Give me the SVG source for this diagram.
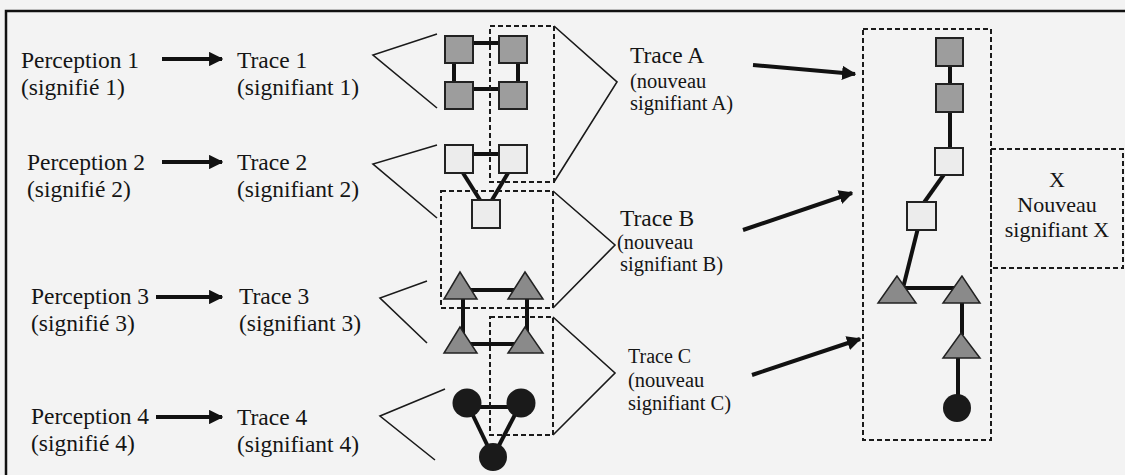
<svg xmlns="http://www.w3.org/2000/svg" width="1125" height="475" viewBox="0 0 1125 475">
<defs>
<marker id="ah" viewBox="0 0 10 10" refX="9" refY="5" markerWidth="3.6" markerHeight="3.6" orient="auto" markerUnits="strokeWidth">
<path d="M0,0 L10,5 L0,10 z" fill="#111"/>
</marker>
<style>
text{font-family:"Liberation Serif","Times New Roman",serif;fill:#151515}
.t{font-size:23.5px}
.s{font-size:20.5px}
.c{font-size:20px}
.x{font-size:22px}
.dash{fill:none;stroke:#1a1a1a;stroke-width:2;stroke-dasharray:5 3}
.chev{fill:none;stroke:#1a1a1a;stroke-width:1.6}
.arr{fill:none;stroke:#111;stroke-width:4;marker-end:url(#ah)}
.link{stroke:#111;stroke-width:4;fill:none}
.gsq{fill:#9d9d9d;stroke:#222;stroke-width:2}
.wsq{fill:#ececec;stroke:#222;stroke-width:2}
.tri{fill:#8a8a8a;stroke:#222;stroke-width:1.5}
.dot{fill:#1a1a1a}
</style>
</defs>
<rect width="1125" height="475" fill="#f3f3f3"/>
<path d="M6,475 V11 H1125" fill="none" stroke="#111" stroke-width="2.5"/>

<g id="perception1"><text class="t" x="21" y="68">Perception 1</text><text class="t" x="21" y="95">(signifié 1)</text></g>
<g id="perception2"><text class="t" x="27" y="170">Perception 2</text><text class="t" x="27" y="197">(signifié 2)</text></g>
<g id="perception3"><text class="t" x="31" y="304">Perception 3</text><text class="t" x="31" y="331">(signifié 3)</text></g>
<g id="perception4"><text class="t" x="31" y="424">Perception 4</text><text class="t" x="31" y="451">(signifié 4)</text></g>

<g id="trace1label"><text class="t" x="237" y="68">Trace 1</text><text class="t" x="237" y="95">(signifiant 1)</text></g>
<g id="trace2label"><text class="t" x="237" y="170">Trace 2</text><text class="t" x="237" y="197">(signifiant 2)</text></g>
<g id="trace3label"><text class="t" x="239" y="304">Trace 3</text><text class="t" x="239" y="331">(signifiant 3)</text></g>
<g id="trace4label"><text class="t" x="237" y="425">Trace 4</text><text class="t" x="237" y="452">(signifiant 4)</text></g>

<g id="traceAlabel"><text class="t" x="630" y="63">Trace A</text><text class="s" x="630" y="88">(nouveau</text><text class="s" x="630" y="110">signifiant A)</text></g>
<g id="traceBlabel"><text class="t" x="620" y="226">Trace B</text><text class="s" x="617" y="249">(nouveau</text><text class="s" x="620" y="271">signifiant B)</text></g>
<g id="traceClabel"><text class="c" x="628" y="363">Trace C</text><text class="s" x="628" y="387">(nouveau</text><text class="s" x="628" y="410">signifiant C)</text></g>

<g id="connectors">
<line class="arr" x1="162" y1="59" x2="222" y2="59"/>
<line class="arr" x1="162" y1="162" x2="222" y2="162"/>
<line class="arr" x1="156" y1="297" x2="222" y2="297"/>
<line class="arr" x1="156" y1="417" x2="222" y2="417"/>
<line class="arr" x1="753" y1="65" x2="855" y2="74"/>
<line class="arr" x1="743" y1="230" x2="852" y2="193"/>
<line class="arr" x1="752" y1="375" x2="860" y2="339"/>
<polyline class="chev" points="437,34 373,55 437,108"/>
<polyline class="chev" points="437,145 373,164 437,218"/>
<polyline class="chev" points="427,281 380,298 427,343"/>
<polyline class="chev" points="445,389 380,416 435,460"/>
<polyline class="chev" points="554,26 617,82 554,182"/>
<polyline class="chev" points="553,191 615,245 553,308"/>
<polyline class="chev" points="553,317 615,373 553,435"/>
</g>

<g id="trace1shapes">
<line class="link" x1="459" y1="43" x2="513" y2="43"/>
<line class="link" x1="459" y1="89" x2="513" y2="89"/>
<line class="link" x1="454" y1="50" x2="454" y2="95"/>
<line class="link" x1="518" y1="50" x2="518" y2="95"/>
<rect class="gsq" x="445" y="36" width="28" height="27"/>
<rect class="gsq" x="499" y="36" width="28" height="27"/>
<rect class="gsq" x="445" y="82" width="28" height="27"/>
<rect class="gsq" x="499" y="82" width="28" height="27"/>
</g>

<g id="trace2shapes">
<line class="link" x1="459" y1="154" x2="513" y2="154"/>
<line class="link" x1="463" y1="173" x2="480" y2="200"/>
<line class="link" x1="508" y1="173" x2="492" y2="200"/>
<rect class="wsq" x="445" y="145" width="28" height="28"/>
<rect class="wsq" x="499" y="145" width="28" height="28"/>
<rect class="wsq" x="472" y="200" width="28" height="28"/>
</g>

<g id="trace3shapes">
<line class="link" x1="463" y1="290" x2="525" y2="290"/>
<line class="link" x1="463" y1="290" x2="463" y2="340"/>
<line class="link" x1="527" y1="290" x2="527" y2="340"/>
<line class="link" x1="463" y1="344" x2="525" y2="344"/>
<polygon class="tri" points="460,272 444,299 477,299"/>
<polygon class="tri" points="525,272 508,299 543,299"/>
<polygon class="tri" points="460,327 444,353 477,353"/>
<polygon class="tri" points="525,327 508,353 543,353"/>
</g>

<g id="trace4shapes">
<line class="link" x1="467" y1="407" x2="521" y2="407"/>
<line class="link" x1="467" y1="403" x2="493" y2="457"/>
<line class="link" x1="521" y1="403" x2="493" y2="457"/>
<circle class="dot" cx="467" cy="403" r="14.5"/>
<circle class="dot" cx="521" cy="403" r="14.5"/>
<circle class="dot" cx="493" cy="457" r="14"/>
</g>

<g id="boxA"><rect class="dash" x="490" y="26" width="64" height="156"/></g>
<g id="boxB"><rect class="dash" x="441" y="191" width="112" height="117"/></g>
<g id="boxC"><rect class="dash" x="490" y="317" width="63" height="118"/></g>

<g id="newTrace">
<rect class="dash" x="863" y="29" width="128" height="411"/>
<line class="link" x1="950" y1="60" x2="950" y2="150"/>
<line class="link" x1="945" y1="173" x2="923" y2="204"/>
<line class="link" x1="918" y1="228" x2="903" y2="288"/>
<line class="link" x1="903" y1="288" x2="958" y2="288"/>
<line class="link" x1="962" y1="295" x2="962" y2="335"/>
<line class="link" x1="958" y1="350" x2="958" y2="400"/>
<rect class="gsq" x="936" y="38" width="27" height="28"/>
<rect class="gsq" x="936" y="84" width="27" height="28"/>
<rect class="wsq" x="935" y="148" width="28" height="27"/>
<rect class="wsq" x="907" y="202" width="29" height="28"/>
<polygon class="tri" points="897,276 878,303 916,303"/>
<polygon class="tri" points="962,276 943,303 980,303"/>
<polygon class="tri" points="961,333 943,358 980,358"/>
<circle class="dot" cx="957" cy="408" r="14"/>
</g>

<g id="boxX">
<rect class="dash" x="991" y="149" width="132" height="119"/>
<text class="x" x="1057" y="187" text-anchor="middle">X</text>
<text class="x" x="1057" y="212" text-anchor="middle">Nouveau</text>
<text class="x" x="1057" y="237" text-anchor="middle">signifiant X</text>
</g>
</svg>
